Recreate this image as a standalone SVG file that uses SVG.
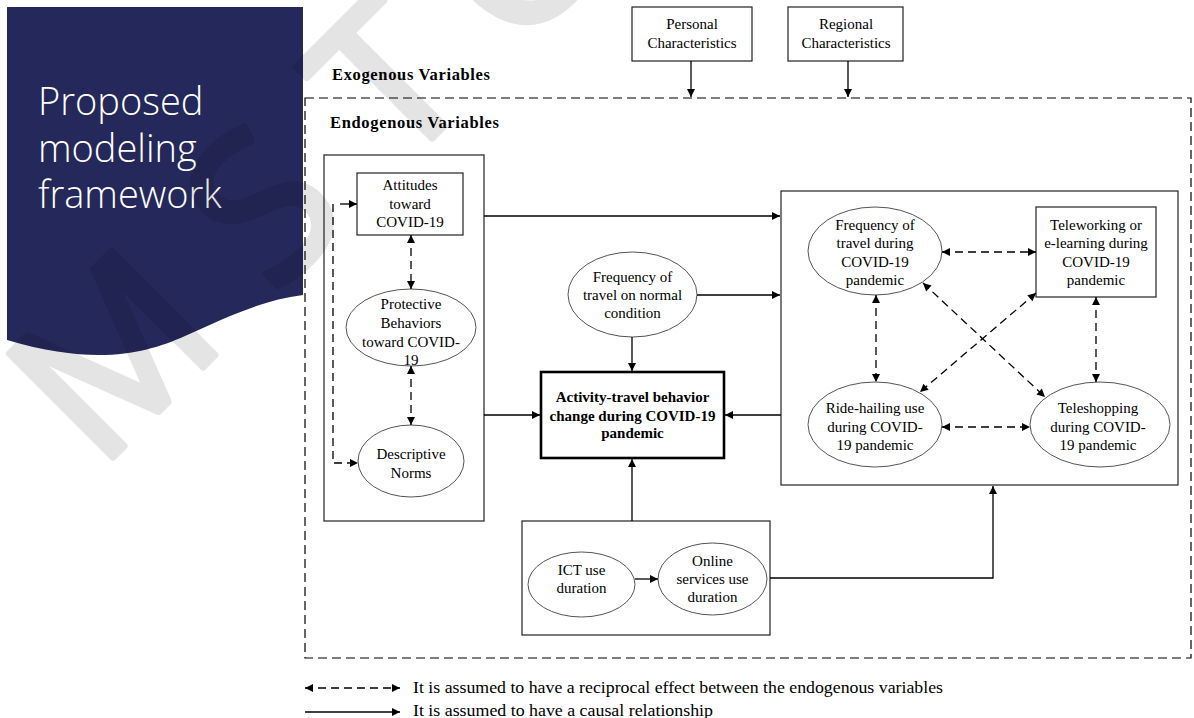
<svg xmlns="http://www.w3.org/2000/svg" width="1194" height="718" viewBox="0 0 1194 718">
<defs>
<marker id="ah" viewBox="0 0 10 10" refX="10" refY="5" markerWidth="9" markerHeight="8" markerUnits="userSpaceOnUse" orient="auto-start-reverse"><path d="M0,0 L10,5 L0,10 z" fill="#000" stroke="none"/></marker>
<style>
.t{font-family:"Liberation Serif","Times New Roman",serif;font-size:15px;fill:#000;text-anchor:middle}
.b{font-family:"Liberation Serif","Times New Roman",serif;font-weight:bold;fill:#000}
.box{fill:none;stroke:#222;stroke-width:1.2}
.ell{fill:#fff;stroke:#555;stroke-width:1}
.sol{fill:none;stroke:#000;stroke-width:1.3;marker-end:url(#ah)}
.dsh{fill:none;stroke:#000;stroke-width:1.3;stroke-dasharray:8,5;marker-start:url(#ah);marker-end:url(#ah)}
.title{font-family:"Open Sans","Noto Sans",sans-serif;font-weight:300;font-size:38px;fill:#fff}
.lg{font-family:"Liberation Serif","Times New Roman",serif;font-size:17px;fill:#000}
</style>
</defs>
<rect width="1194" height="718" fill="#fff"/>
<g id="slide-banner">
<path d="M7,7 H303 V295 C262,300 225,318 185,336 C145,354 95,366 7,340 Z" fill="#25285a"/>
<text class="title" x="38" y="115">Proposed</text>
<text class="title" x="38" y="162">modeling</text>
<text class="title" x="38" y="208">framework</text>
</g>
<g id="watermark" opacity="0.1">
<text x="100.2 347.7 523.7 688.7" y="475" transform="rotate(-45 95 475)" font-family="'Open Sans','Noto Sans',sans-serif" font-size="205" fill="#000" stroke="#000" stroke-width="7" stroke-linejoin="round">MSTC</text>
</g>
<g id="labels">
<text class="b" x="332" y="80" font-size="16.5" textLength="158" lengthAdjust="spacing">Exogenous Variables</text>
<text class="b" x="330" y="128" font-size="16.5" textLength="169" lengthAdjust="spacing">Endogenous Variables</text>
</g>
<rect id="exo-frame" x="305" y="98" width="886" height="560" fill="none" stroke="#000" stroke-width="1.2" stroke-dasharray="9,5"/>
<g id="personal">
<rect class="box" x="632" y="7" width="120" height="54"/>
<text class="t" x="692" y="29">Personal</text>
<text class="t" x="692" y="48">Characteristics</text>
</g>
<g id="regional">
<rect class="box" x="788" y="7" width="115" height="54"/>
<text class="t" x="846" y="29">Regional</text>
<text class="t" x="846" y="48">Characteristics</text>
</g>
<rect id="left-panel" class="box" x="324" y="155" width="160" height="366"/>
<g id="attitudes">
<rect class="box" x="357" y="173" width="106" height="62"/>
<text class="t" x="410" y="190">Attitudes</text>
<text class="t" x="410" y="209">toward</text>
<text class="t" x="410" y="227">COVID-19</text>
</g>
<g id="protective">
<ellipse class="ell" cx="411" cy="327.5" rx="65" ry="38.5"/>
<text class="t" x="411" y="309">Protective</text>
<text class="t" x="411" y="328">Behaviors</text>
<text class="t" x="411" y="347">toward COVID-</text>
<text class="t" x="411" y="365">19</text>
</g>
<g id="descriptive">
<ellipse class="ell" cx="411" cy="461" rx="53" ry="36"/>
<text class="t" x="411" y="459">Descriptive</text>
<text class="t" x="411" y="478">Norms</text>
</g>
<g id="freq-normal">
<ellipse class="ell" cx="632.5" cy="294.5" rx="64.5" ry="42.5"/>
<text class="t" x="632.5" y="282">Frequency of</text>
<text class="t" x="632.5" y="300">travel on normal</text>
<text class="t" x="632.5" y="318">condition</text>
</g>
<g id="activity">
<rect x="541" y="372" width="183" height="86" fill="none" stroke="#000" stroke-width="2.6"/>
<text class="b" x="632.5" y="402" font-size="15" text-anchor="middle">Activity-travel behavior</text>
<text class="b" x="632.5" y="421" font-size="15" text-anchor="middle">change during COVID-19</text>
<text class="b" x="632.5" y="438" font-size="15" text-anchor="middle">pandemic</text>
</g>
<rect id="right-panel" class="box" x="781" y="191" width="397" height="294"/>
<g id="freq-during">
<ellipse class="ell" cx="875" cy="251" rx="67" ry="44"/>
<text class="t" x="875" y="230">Frequency of</text>
<text class="t" x="875" y="248">travel during</text>
<text class="t" x="875" y="267">COVID-19</text>
<text class="t" x="875" y="285">pandemic</text>
</g>
<g id="teleworking">
<rect class="box" x="1036" y="207" width="120" height="90"/>
<text class="t" x="1096" y="230">Teleworking or</text>
<text class="t" x="1096" y="248">e-learning during</text>
<text class="t" x="1096" y="267">COVID-19</text>
<text class="t" x="1096" y="285">pandemic</text>
</g>
<g id="ride-hailing">
<ellipse class="ell" cx="875" cy="424.5" rx="67" ry="42.5"/>
<text class="t" x="875" y="413">Ride-hailing use</text>
<text class="t" x="875" y="432">during COVID-</text>
<text class="t" x="875" y="450">19 pandemic</text>
</g>
<g id="teleshopping">
<ellipse class="ell" cx="1100" cy="424.5" rx="70" ry="42.5"/>
<text class="t" x="1098" y="413">Teleshopping</text>
<text class="t" x="1098" y="432">during COVID-</text>
<text class="t" x="1098" y="450">19 pandemic</text>
</g>
<rect id="ict-panel" class="box" x="522" y="521" width="248" height="114"/>
<g id="ict">
<ellipse class="ell" cx="581.5" cy="584.5" rx="53.5" ry="32.5"/>
<text class="t" x="581.5" y="575">ICT use</text>
<text class="t" x="581.5" y="593">duration</text>
</g>
<g id="online">
<ellipse class="ell" cx="712.5" cy="579" rx="54.5" ry="36"/>
<text class="t" x="712.5" y="566">Online</text>
<text class="t" x="712.5" y="584">services use</text>
<text class="t" x="712.5" y="602">duration</text>
</g>
<g id="connectors">
<path class="sol" d="M691,61 V97"/>
<path class="sol" d="M848,61 V97"/>
<path class="dsh" d="M411,235 V289"/>
<path class="dsh" d="M411,366 V425"/>
<path d="M333,204 V463 H358" fill="none" stroke="#000" stroke-width="1.3" stroke-dasharray="8,5" marker-end="url(#ah)"/>
<path class="sol" d="M340,204 H357"/>
<path class="sol" d="M484,216 H780"/>
<path class="sol" d="M697,295 H780"/>
<path class="sol" d="M632,337 V371"/>
<path class="sol" d="M484,415 H540"/>
<path class="sol" d="M781,415 H725"/>
<path class="sol" d="M632,521 V459"/>
<path class="sol" d="M635,579 H658"/>
<path class="sol" d="M770,578 H993 V486"/>
<path class="dsh" d="M942,252 H1036"/>
<path class="dsh" d="M876,295 V382"/>
<path class="dsh" d="M1096,297 V382"/>
<path class="dsh" d="M942,427 H1030"/>
<path class="dsh" d="M923,283 L1045,397"/>
<path class="dsh" d="M1036,293 L920,392"/>
</g>
<g id="legend">
<path class="dsh" d="M305,688 H400"/>
<text class="lg" x="413" y="693" textLength="530" lengthAdjust="spacingAndGlyphs">It is assumed to have a reciprocal effect between the endogenous variables</text>
<path class="sol" d="M305,712 H400"/>
<text class="lg" x="413" y="716" textLength="300" lengthAdjust="spacingAndGlyphs">It is assumed to have a causal relationship</text>
</g>
</svg>
